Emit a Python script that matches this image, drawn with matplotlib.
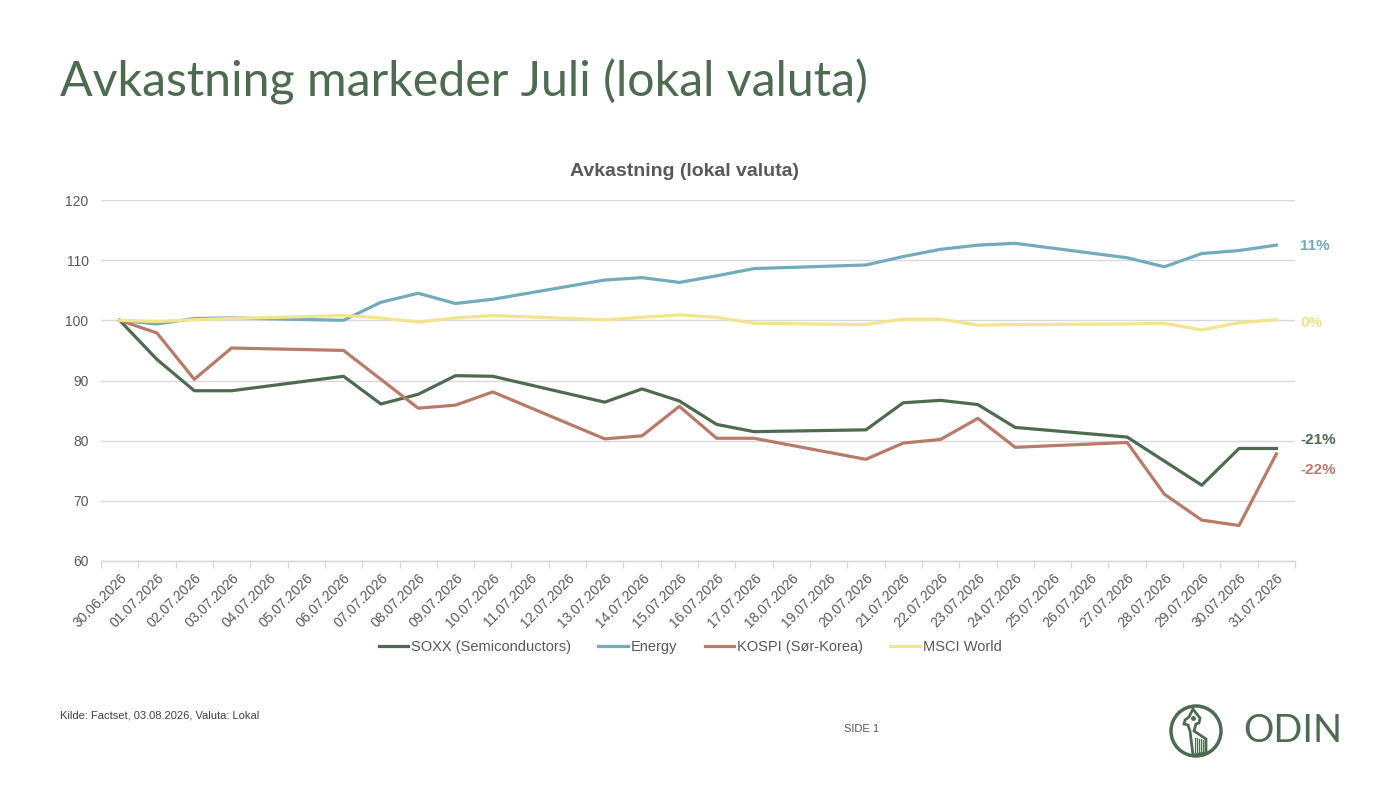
import numpy as np
import matplotlib
matplotlib.use("Agg")
import matplotlib.pyplot as plt
import matplotlib.transforms as mtransforms
from matplotlib.patches import Circle, Polygon
from matplotlib.lines import Line2D

nan = np.nan

dates = ["30.06.2026"] + [f"{d:02d}.07.2026" for d in range(1, 32)]

soxx = [100, 93.5, 88.3, 88.3, nan, nan, 90.7, 86.1, 87.7, 90.8, 90.7, nan, nan,
        86.4, 88.6, 86.6, 82.7, 81.5, nan, nan, 81.8, 86.3, 86.7, 86.0, 82.2, nan, nan,
        80.6, 76.6, 72.6, 78.7, 78.7]
energy = [100, 99.4, 100.3, 100.4, nan, nan, 100.0, 103.0, 104.5, 102.8, 103.5, nan, nan,
          106.7, 107.1, 106.3, 107.4, 108.6, nan, nan, 109.2, 110.6, 111.8, 112.5, 112.8, nan, nan,
          110.4, 108.9, 111.1, 111.6, 112.5]
kospi = [100, 97.9, 90.2, 95.4, nan, nan, 95.0, 90.2, 85.4, 85.9, 88.1, nan, nan,
         80.3, 80.8, 85.7, 80.4, 80.4, nan, nan, 76.9, 79.6, 80.2, 83.7, 78.9, nan, nan,
         79.7, 71.1, 66.8, 65.9, 77.8]
msci = [100, 99.8, 100.1, 100.3, nan, nan, 100.8, 100.4, 99.7, 100.4, 100.8, nan, nan,
        100.1, 100.5, 100.9, 100.5, 99.5, nan, nan, 99.3, 100.2, 100.2, 99.2, 99.3, nan, nan,
        99.4, 99.5, 98.4, 99.6, 100.1]

series_names = ["SOXX (Semiconductors)", "Energy", "KOSPI (Sør-Korea)", "MSCI World"]
end_labels = ["-21%", "11%", "-22%", "0%"]
yticks = [60, 70, 80, 90, 100, 110, 120]

colors = ["#4e6b50", "#72abbb", "#b97b69", "#f3e58f"]
label_colors = ["#4e6b50", "#72abbb", "#b97b69", "#f0e08a"]
label_y = [80.1, 112.3, 75.1, 99.6]

GREEN = "#4d6b50"
GRAY = "#595959"

plt.rcParams['font.family'] = ['Liberation Sans', 'DejaVu Sans']

fig = plt.figure(figsize=(14, 7.88), dpi=100)
W, H = 1400, 788

ax = fig.add_axes([101 / W, 1 - 561 / H, (1295 - 101) / W, (561 - 200) / H])
x = np.arange(len(dates))
for vals, name, c in zip([soxx, energy, kospi, msci], series_names, colors):
    v = np.array(vals, dtype=float)
    m = np.isfinite(v)
    ax.plot(x[m], v[m], color=c, lw=2.3, label=name, solid_joinstyle='round')

ax.set_xlim(-0.5, len(dates) - 0.5)
ax.set_ylim(60, 120)
ax.set_yticks(yticks)
ax.set_yticklabels([str(t) for t in yticks], color=GRAY, fontsize=10)
ax.tick_params(axis='y', length=0, pad=9)
ax.set_xticks(x)
ax.set_xticklabels(dates, rotation=45, ha='right', rotation_mode='anchor',
                   color=GRAY, fontsize=10)
ax.tick_params(axis='x', which='major', length=0, pad=7)
ax.set_xticks(np.arange(-0.5, len(dates), 1.0), minor=True)
ax.tick_params(axis='x', which='minor', length=5, color="#d9d9d9", width=1)
ax.grid(axis='y', color="#d9d9d9", lw=1)
ax.set_axisbelow(True)
for s in ['top', 'right', 'left']:
    ax.spines[s].set_visible(False)
ax.spines['bottom'].set_color("#d9d9d9")
ax.spines['bottom'].set_linewidth(1)

# end labels
blend = mtransforms.blended_transform_factory(fig.transFigure, ax.transData)
for lab, ly, c in zip(end_labels, label_y, label_colors):
    ax.text(1300 / W, ly, lab, transform=blend, color=c, fontsize=11,
            fontweight='bold', va='center', ha='left')

# chart title
fig.text(685 / W, 1 - 172 / H, "Avkastning (lokal valuta)", ha='center', va='center',
         fontsize=14, fontweight='bold', color=GRAY)

# legend
handles = [Line2D([0], [0], color=c, lw=2.3) for c in colors]
fig.legend(handles, series_names, loc='center', bbox_to_anchor=(690 / W, 1 - 647 / H),
           ncol=4, frameon=False, fontsize=10.5, handlelength=2.0, handletextpad=0.2,
           columnspacing=1.9, labelcolor=GRAY)

# main title, fitted to width
t = fig.text(60 / W, 1 - 82 / H, "Avkastning markeder Juli (lokal valuta)", ha='left', va='center',
             fontsize=34, color=GREEN, family=['Lato', 'DejaVu Sans'])
fig.canvas.draw()
bb = t.get_window_extent()
t.set_fontsize(34 * 810 / bb.width)

# footer
fig.text(60 / W, 1 - 715 / H, "Kilde: Factset, 03.08.2026, Valuta: Lokal", ha='left', va='center',
         fontsize=8, color="#404040")
fig.text(862 / W, 1 - 729 / H, "SIDE 1", ha='center', va='center', fontsize=8, color=GRAY)

# logo
lax = fig.add_axes([(1196 - 30) / W, 1 - (731 + 30) / H, 60 / W, 60 / H])
lax.set_xlim(0, 60)
lax.set_ylim(0, 60)
lax.axis('off')
lax.add_patch(Circle((30, 30), 25, fill=False, ec=GREEN, lw=2.5))
head = Polygon([[19, 41], [23, 44], [27, 52], [30, 48], [34, 43], [33, 38], [30, 37],
                [28, 30], [40, 22], [40, 8], [27, 6], [24, 30], [22, 36], [18, 37]],
               closed=True, fill=False, ec=GREEN, lw=2.0)
lax.add_patch(head)
for xs in np.linspace(29, 39, 6):
    lax.plot([xs, xs], [9, 23 - (xs - 29) * 0.2], color=GREEN, lw=0.9)
lax.plot([26.5], [43.5], marker='o', ms=2.5, color=GREEN)
od = fig.text(1243 / W, 1 - 731 / H, "ODIN", ha='left', va='center', fontsize=26,
              color=GREEN, family=['Lato', 'DejaVu Sans'])
fig.canvas.draw()
ob = od.get_window_extent()
od.set_fontsize(26 * 99 / ob.width)

fig.savefig("out.png", dpi=100)
